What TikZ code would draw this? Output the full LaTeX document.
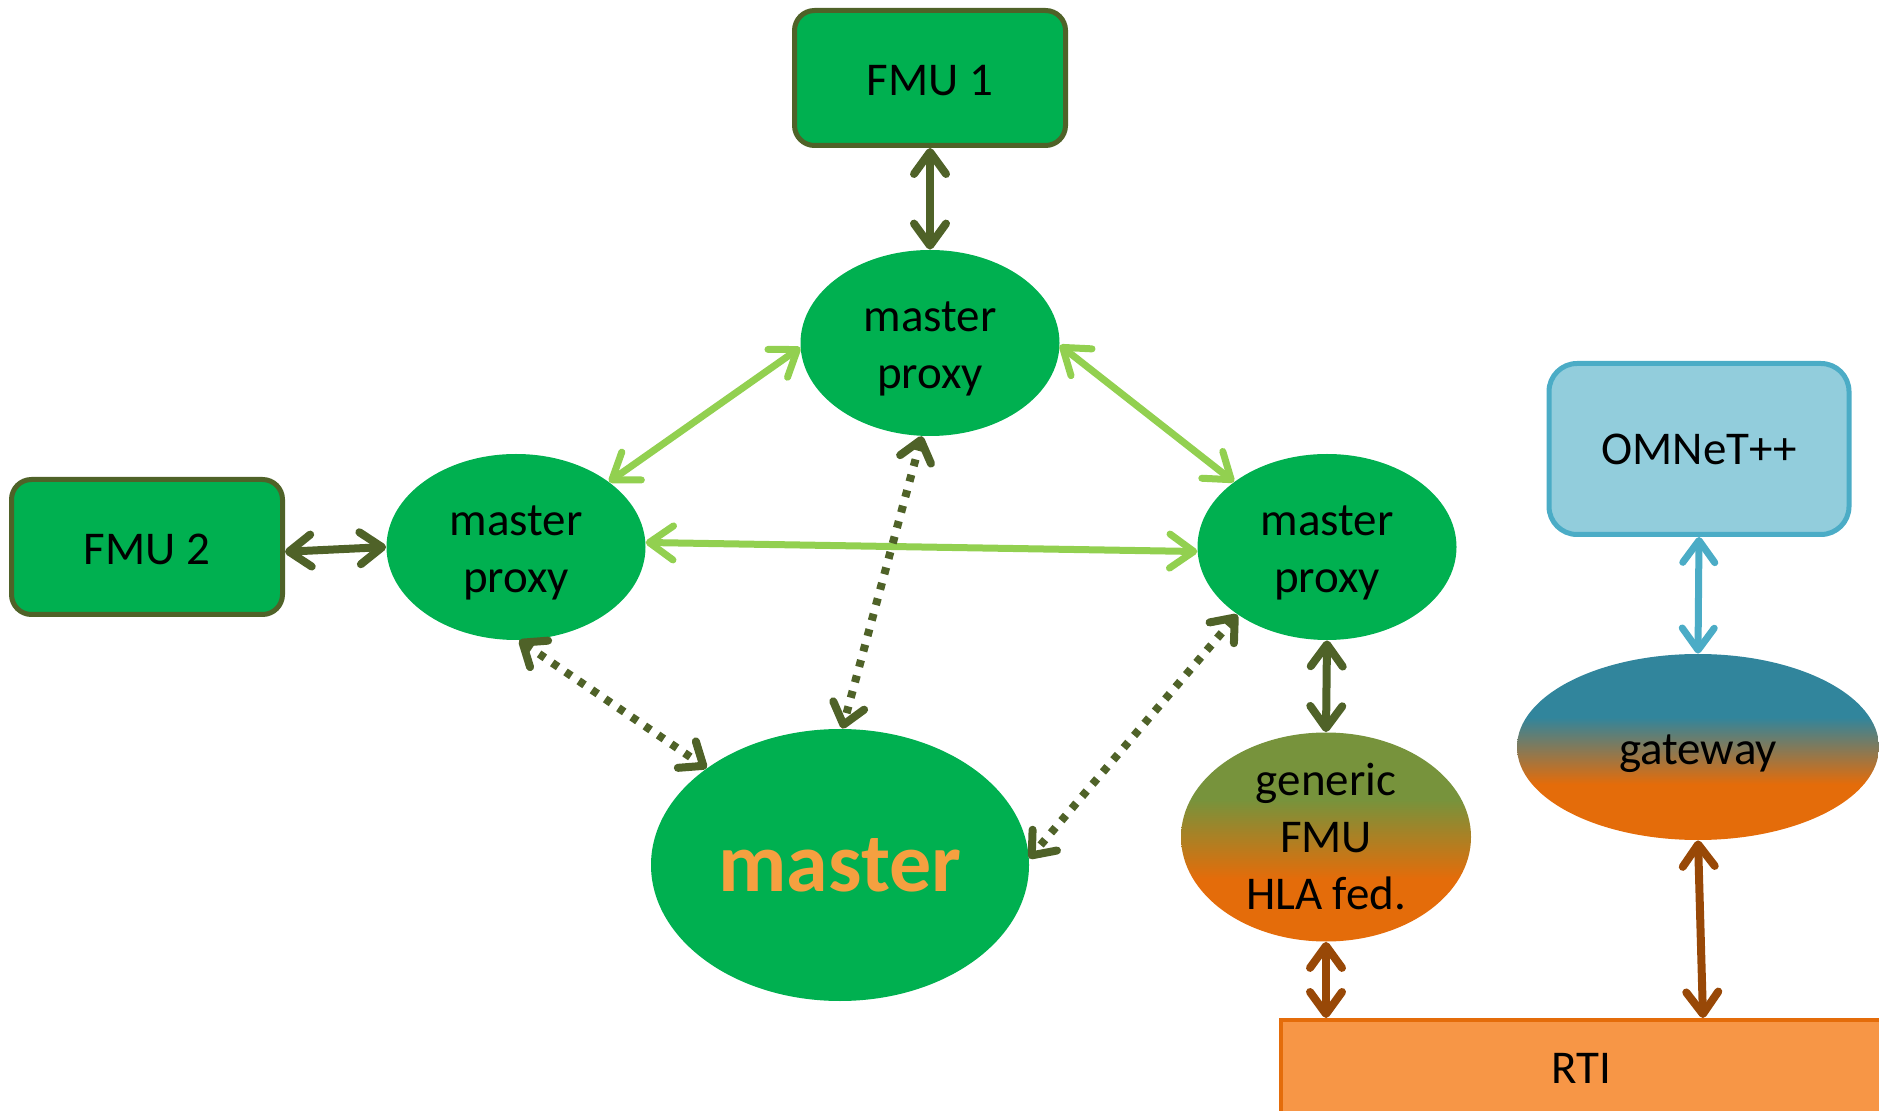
\documentclass[tikz,border=0pt]{standalone}
\usepackage{fontspec}
\setmainfont{Carlito}
\usetikzlibrary{arrows.meta,shapes.geometric}
\definecolor{fgreen}{HTML}{00B050}
\definecolor{olivedk}{HTML}{4F6228}
\definecolor{lgreen}{HTML}{92D050}
\definecolor{brownar}{HTML}{984807}
\definecolor{cyanar}{HTML}{4BACC6}
\definecolor{omfill}{HTML}{92CDDC}
\definecolor{rtifill}{HTML}{F79646}
\definecolor{rtiline}{HTML}{E46C0A}
\definecolor{genorange}{HTML}{E46C0A}
\definecolor{gengreen}{HTML}{77933C}
\definecolor{gwteal}{HTML}{31859C}
\definecolor{mastertext}{HTML}{F5A040}
\pgfdeclareverticalshading{genshade}{100bp}{color(0bp)=(genorange); color(40bp)=(genorange); color(59bp)=(gengreen); color(100bp)=(gengreen)}
\pgfdeclareverticalshading{gwshade}{100bp}{color(0bp)=(genorange); color(40bp)=(genorange); color(58bp)=(gwteal); color(100bp)=(gwteal)}
\newcommand{\lowertext}[1]{\raisebox{-3pt}[\height][\depth]{\begin{tabular}{@{}c@{}}#1\end{tabular}}}
\begin{document}
\begin{tikzpicture}[x=0.5pt,y=-0.5pt,
  every node/.style={font=\fontsize{23.5}{28.5}\selectfont, align=center},
  fmubox/.style={draw=olivedk, line width=2.5pt, fill=fgreen, rounded corners=10pt, minimum width=135.5pt, minimum height=67.5pt},
  prox/.style={ellipse, fill=fgreen, inner sep=-10pt, minimum width=129.5pt, minimum height=93pt},
  darkarrow/.style={draw=olivedk, line width=4pt, {Straight Barb[length=11pt,width=16pt,round]}-{Straight Barb[length=11pt,width=16pt,round]}},
  lgarrow/.style={draw=lgreen, line width=3.5pt, {Straight Barb[length=12pt,width=17pt,round]}-{Straight Barb[length=12pt,width=17pt,round]}},
  dotarrow/.style={draw=olivedk, line width=4pt, dash pattern=on 3.5pt off 4.5pt, {Straight Barb[length=10pt,width=16pt,round]}-{Straight Barb[length=10pt,width=16pt,round]}},
  brarrow/.style={draw=brownar, line width=4pt, {Straight Barb[length=11pt,width=16pt,round]}-{Straight Barb[length=11pt,width=16pt,round]}},
  cyarrow/.style={draw=cyanar, line width=3.5pt, {Straight Barb[length=11pt,width=16pt,round]}-{Straight Barb[length=11pt,width=16pt,round]}}
]
\useasboundingbox (0,0) rectangle (1879,1111);
\clip (0,0) rectangle (1879,1111);

\node[fmubox] (f1) at (930,78) {\lowertext{FMU 1}};
\node[fmubox] (f2) at (147,547) {\lowertext{FMU 2}};
\node[prox] (tp) at (930,343) {\lowertext{master\\proxy}};
\node[prox] (lp) at (516,547) {\lowertext{master\\proxy}};
\node[prox] (rp) at (1327,547) {\lowertext{master\\proxy}};
\node[ellipse, fill=fgreen, inner sep=-10pt, minimum width=189pt, minimum height=136pt,
      font=\fontsize{42}{48}\selectfont\bfseries, text=mastertext] (m) at (840,865) {master};
\node[ellipse, shade, shading=genshade, inner sep=-14pt, minimum width=145pt, minimum height=104.5pt] (g) at (1326,837) {generic\\FMU\\HLA fed.};
\node[ellipse, shade, shading=gwshade, inner sep=-10pt, minimum width=181pt, minimum height=93pt] (gw) at (1698,747) {\lowertext{gateway}};
\node[draw=cyanar, line width=2.5pt, fill=omfill, rounded corners=14pt, minimum width=150pt, minimum height=85.5pt] (om) at (1699,449) {OMNeT++};
\node[draw=rtiline, line width=2pt, fill=rtifill, minimum width=300pt, minimum height=48pt] (rti) at (1581,1068) {RTI};

\draw[darkarrow] (f1.south) -- (tp.north);
\draw[darkarrow] (f2.-2) -- (lp.180);
\draw[lgarrow] (tp.182) -- (lp.35);
\draw[lgarrow] (tp.-1) -- (rp.145);
\draw[lgarrow] (lp.2) -- (rp.182);
\draw[dotarrow] (tp.265) -- (m.89);
\draw[dotarrow] (lp.272) -- (m.144);
\draw[dotarrow] (rp.217) -- (m.2);
\draw[darkarrow] (rp.south) -- (g.north);
\draw[brarrow] (g.south) -- (g.south |- rti.north);
\draw[cyarrow] (om.south) -- (gw.north);
\draw[brarrow] (gw.south) -- ([xshift=2.5pt]gw.south |- rti.north);
\end{tikzpicture}
\end{document}
